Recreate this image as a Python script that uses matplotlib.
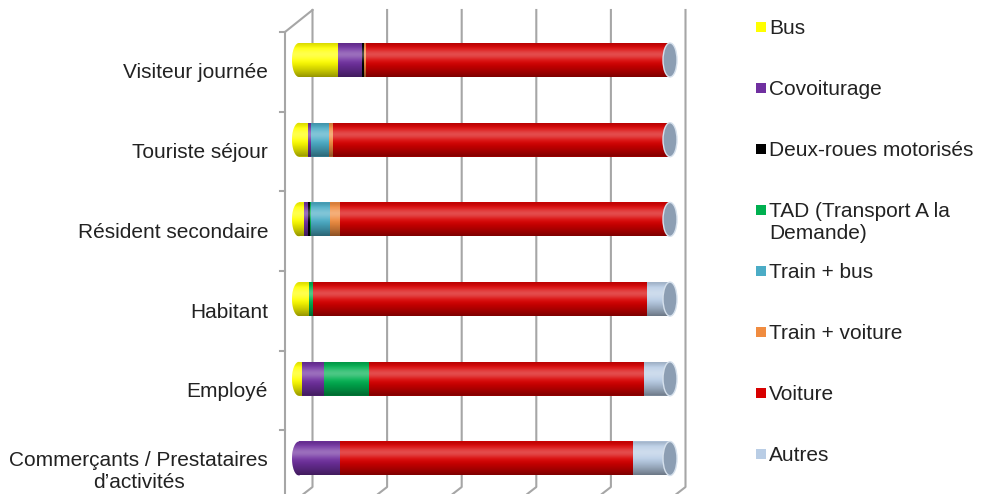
import numpy as np
import matplotlib
matplotlib.use("Agg")
import matplotlib.pyplot as plt
from matplotlib.patches import Ellipse, Rectangle, Polygon

plt.rcParams["font.family"] = ["Liberation Sans", "DejaVu Sans"]

categories = [
    "Visiteur journée",
    "Touriste séjour",
    "Résident secondaire",
    "Habitant",
    "Employé",
    "Commerçants / Prestataires\nd’activités",
]
series = [
    "Bus",
    "Covoiturage",
    "Deux-roues motorisés",
    "TAD (Transport A la\nDemande)",
    "Train + bus",
    "Train + voiture",
    "Voiture",
    "Autres",
]
colors = ["#FFFF00", "#7030A0", "#000000", "#00B050",
          "#4BACC6", "#F08C40", "#D80000", "#B9CDE5"]

# shares in %, one list per mode, in category order
bus = [10.5, 2.5, 1.4, 2.7, 0.8, 0.0]
covoiturage = [6.5, 0.8, 1.1, 0.0, 5.9, 11.1]
deux_roues = [0.5, 0.0, 0.5, 0.0, 0.0, 0.0]
tad = [0.0, 0.0, 0.3, 1.1, 12.1, 0.0]
train_bus = [0.0, 4.9, 5.0, 0.0, 0.0, 0.0]
train_voiture = [0.5, 1.0, 2.7, 0.0, 0.0, 0.0]
voiture = [82.0, 90.8, 89.0, 90.0, 74.1, 78.9]
autres = [0.0, 0.0, 0.0, 6.2, 7.0, 10.0]

values = np.array([bus, covoiturage, deux_roues, tad, train_bus,
                   train_voiture, voiture, autres])

W, H = 981, 494
fig = plt.figure(figsize=(W / 100, H / 100), dpi=100)
ax = fig.add_axes([0, 0, 1, 1])
ax.axis("off")

# pixel -> data helpers (x in %, y in category index)
X0, XS = 299, 3.71
Y0, YS = 60, 79.7


def px(x):
    return (x - X0) / XS


def py(y):
    return (y - Y0) / YS


ax.set_xlim(px(0), px(W))
ax.set_ylim(py(H), py(0))

grid_c = "#A6A6A6"
# left wall
ax.plot([px(285), px(285)], [py(32), py(494)], color=grid_c, lw=1.5, zorder=1)
ax.plot([px(285), px(312.5)], [py(32), py(10)], color=grid_c, lw=1.5, zorder=1)
for k in range(6):
    yy = py(32 + 79.7 * k)
    ax.plot([px(280), px(285)], [yy, yy], color=grid_c, lw=1.5, zorder=1)
# back wall gridlines + floor
for k in range(6):
    gx = 312.5 + 74.6 * k
    ax.plot([px(gx), px(gx), px(gx - 9)], [py(10), py(487), py(494)],
            color=grid_c, lw=1.5, zorder=1)

h = 34 / YS
capw = 14 / XS
ypos = np.arange(len(categories))
left = np.zeros(len(categories))
for vals, c in zip(values, colors):
    ax.barh(ypos, vals, left=left, height=h, color=c, lw=0, zorder=3)
    left += vals

# cylinder shading
t = np.linspace(0, 1, 80)
white = 0.30 * np.exp(-((t - 0.33) / 0.17) ** 2)
black = (np.clip(0.15 * (1 - t / 0.15), 0, None)
         + 0.42 * np.clip((t - 0.5) / 0.5, 0, None) ** 1.3)
grad = np.zeros((len(t), 1, 4))
a = white + black
grad[:, 0, :3] = (white / np.maximum(a, 1e-6))[:, None]
grad[:, 0, 3] = np.clip(a, 0, 1)

ang = np.linspace(np.pi / 2, 3 * np.pi / 2, 40)
for i in ypos:
    # left rounded end, in the colour of the first segment
    first = next(c for v, c in zip(values[:, i], colors) if v > 0)
    ex = capw / 2 * np.cos(ang)
    ey = i - h / 2 * np.sin(ang)
    cap_pts = np.column_stack([np.r_[ex, 0.2], np.r_[ey, i + h / 2]])
    cap_pts = np.vstack([cap_pts, [0.2, i - h / 2]])
    ax.add_patch(Polygon(cap_pts, closed=True, color=first, lw=0, zorder=3))
    body = np.vstack([np.column_stack([ex, ey]),
                      [[100, i + h / 2], [100, i - h / 2]]])
    clip = Polygon(body, closed=True, transform=ax.transData)
    im = ax.imshow(grad, extent=(-capw / 2, 100, i + h / 2, i - h / 2),
                   aspect="auto", interpolation="bilinear", zorder=4)
    im.set_clip_path(clip)
    ax.add_patch(Ellipse((100, i), capw, h, facecolor="#8C9EB3",
                         edgecolor="#D5E0EC", lw=1, zorder=5))

for i, cat in enumerate(categories):
    ax.text(px(268), i + 13 / YS, cat, ha="right", va="center",
            multialignment="center", linespacing=1.15,
            fontsize=15, color="#222222")

# legend
for k, (name, c) in enumerate(zip(series, colors)):
    yc = 27 + 61 * k
    fig.add_artist(Rectangle((756 / W, 1 - (yc + 5) / H), 10 / W, 10 / H,
                             transform=fig.transFigure, color=c, lw=0))
    fig.text(769 / W, 1 - (yc - 8) / H, name, ha="left", va="top",
             linespacing=1.2, fontsize=15, color="#222222")

fig.savefig("out.png", dpi=100)
